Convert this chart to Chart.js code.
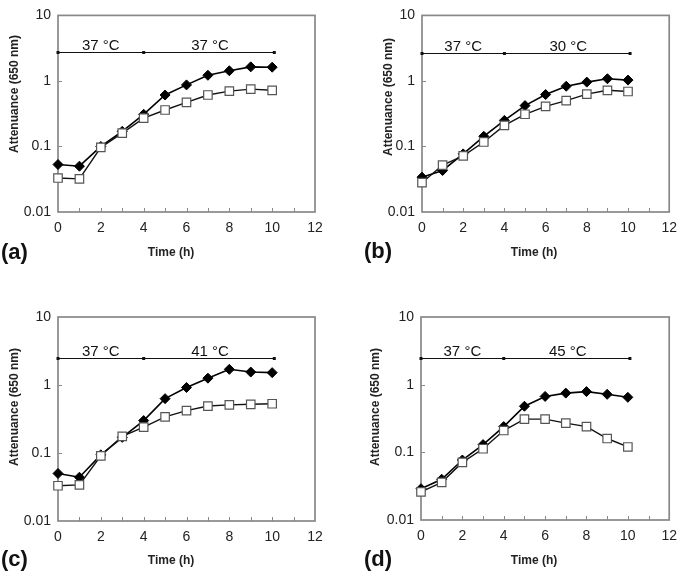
<!DOCTYPE html>
<html>
<head>
<meta charset="utf-8">
<script src="https://cdn.jsdelivr.net/npm/chart.js@4.4.1/dist/chart.umd.min.js"></script>
<style>
  body { margin: 0; background: #fff; }
  #wrap { position: relative; width: 685px; height: 577px; font-family: "Liberation Sans", Arial, sans-serif; color: #111; }
  canvas { position: absolute; }
  .lbl { position: absolute; transform: translate(-50%, -50%); white-space: nowrap; }
  .letter { font-size: 22px; font-weight: bold; transform: translate(0, -50%); }
  .xt { font-size: 12px; font-weight: bold; color: #222; }
  .yt { font-size: 12px; font-weight: bold; color: #222; transform: translate(-50%, -50%) rotate(-90deg); }
</style>
</head>
<body>
<div id="wrap">
  <canvas id="ca" width="340" height="290" style="left:0;top:0"></canvas>
  <canvas id="cb" width="345" height="290" style="left:340px;top:0"></canvas>
  <canvas id="cc" width="340" height="287" style="left:0;top:290px"></canvas>
  <canvas id="cd" width="345" height="287" style="left:340px;top:290px"></canvas>

  <div class="lbl letter" style="left:1px;top:252px">(a)</div>
  <div class="lbl letter" style="left:364px;top:251px">(b)</div>
  <div class="lbl letter" style="left:1px;top:559px">(c)</div>
  <div class="lbl letter" style="left:364px;top:559px">(d)</div>

  <div class="lbl xt" style="left:171px;top:252px">Time (h)</div>
  <div class="lbl xt" style="left:534px;top:252px">Time (h)</div>
  <div class="lbl xt" style="left:171px;top:560px">Time (h)</div>
  <div class="lbl xt" style="left:534px;top:560px">Time (h)</div>

  <div class="lbl yt" style="left:14px;top:94px">Attenuance (650 nm)</div>
  <div class="lbl yt" style="left:388px;top:97px">Attenuance (650 nm)</div>
  <div class="lbl yt" style="left:14px;top:407px">Attenuance (650 nm)</div>
  <div class="lbl yt" style="left:375px;top:407px">Attenuance (650 nm)</div>
</div>
<script>
// time points (h)
var hours = [0, 1, 2, 3, 4, 5, 6, 7, 8, 9, 10];
var yTicks = [0.01, 0.1, 1, 10];

// filled diamonds / open squares
var filledA = [0.053, 0.050, 0.10, 0.17, 0.31, 0.61, 0.87, 1.22, 1.43, 1.64, 1.62];
var openA   = [0.033, 0.032, 0.097, 0.16, 0.27, 0.36, 0.47, 0.61, 0.70, 0.75, 0.72];
var filledB = [0.034, 0.043, 0.077, 0.143, 0.25, 0.42, 0.62, 0.83, 0.96, 1.08, 1.03];
var openB   = [0.028, 0.052, 0.072, 0.117, 0.21, 0.31, 0.41, 0.50, 0.63, 0.72, 0.69];
var filledC = [0.050, 0.044, 0.094, 0.17, 0.30, 0.63, 0.92, 1.26, 1.70, 1.55, 1.52];
var openC   = [0.033, 0.034, 0.091, 0.176, 0.24, 0.34, 0.42, 0.49, 0.51, 0.52, 0.53];
var filledD = [0.029, 0.040, 0.077, 0.13, 0.24, 0.48, 0.67, 0.75, 0.79, 0.72, 0.65];
var openD   = [0.026, 0.036, 0.071, 0.113, 0.21, 0.31, 0.31, 0.27, 0.24, 0.16, 0.12];

// temperature phases
var phase1 = ["37 °C", "37 °C", "37 °C", "37 °C"];
var phase2 = ["37 °C", "30 °C", "41 °C", "45 °C"];
var phaseLevel = [2.8, 2.7, 2.5, 2.5];

function pts(vals) {
  return hours.map(function (h, i) { return { x: h, y: vals[i] }; });
}

var framePlugin = {
  id: "frame",
  beforeDatasetsDraw: function (chart) {
    var ctx = chart.ctx;
    var a = chart.chartArea;
    var xs = chart.scales.x;
    var ys = chart.scales.y;
    ctx.save();
    // box
    ctx.strokeStyle = "#888";
    ctx.lineWidth = 1.7;
    ctx.strokeRect(a.left, a.top, a.right - a.left, a.bottom - a.top);
    // inward ticks
    ctx.lineWidth = 1;
    ctx.beginPath();
    for (var h = 1; h < 12; h++) {
      var px = Math.round(xs.getPixelForValue(h)) + 0.5;
      ctx.moveTo(px, a.bottom);
      ctx.lineTo(px, a.bottom - 4);
    }
    yTicks.forEach(function (v) {
      if (v == 0.01 || v == 10) return;
      var py = Math.round(ys.getPixelForValue(v)) + 0.5;
      ctx.moveTo(a.left, py);
      ctx.lineTo(a.left + 4, py);
    });
    ctx.stroke();

    // temperature bar
    var k = chart.options.plugins.frame.idx;
    var ly = Math.round(ys.getPixelForValue(phaseLevel[k])) + 0.5;
    var x0 = xs.getPixelForValue(0);
    var x4 = xs.getPixelForValue(4);
    var x10 = xs.getPixelForValue(10.1);
    ctx.strokeStyle = "#111";
    ctx.lineWidth = 1.2;
    ctx.beginPath();
    ctx.moveTo(x0, ly);
    ctx.lineTo(x10, ly);
    ctx.stroke();
    ctx.fillStyle = "#111";
    [x0, x4, x10].forEach(function (px) {
      ctx.fillRect(px - 1.5, ly - 1.5, 3, 3);
    });
    ctx.font = "15px 'Liberation Sans', Arial, sans-serif";
    ctx.textAlign = "center";
    ctx.textBaseline = "alphabetic";
    ctx.fillText(phase1[k], xs.getPixelForValue(2), ly - 3);
    ctx.fillText(phase2[k], xs.getPixelForValue(7.1), ly - 3);
    ctx.restore();
  }
};

function makePanel(id, idx, filled, open, yw, pad) {
  var ctx = document.getElementById(id).getContext("2d");
  return new Chart(ctx, {
    type: "line",
    data: {
      datasets: [
        {
          data: pts(open),
          borderColor: "#111",
          borderWidth: 1.4,
          pointStyle: "rect",
          pointRadius: 6,
          pointBackgroundColor: "#fff",
          pointBorderColor: "#555",
          pointBorderWidth: 1.2,
          clip: false,
          order: 0
        },
        {
          data: pts(filled),
          borderColor: "#000",
          borderWidth: 1.6,
          pointStyle: "rectRot",
          pointRadius: 5,
          pointBackgroundColor: "#000",
          pointBorderColor: "#000",
          pointBorderWidth: 1,
          clip: false,
          order: 1
        }
      ]
    },
    options: {
      responsive: false,
      animation: false,
      layout: { autoPadding: false, padding: pad },
      plugins: {
        legend: { display: false },
        tooltip: { enabled: false },
        frame: { idx: idx }
      },
      scales: {
        x: {
          type: "linear",
          min: 0,
          max: 12,
          grid: { display: false, drawTicks: false },
          border: { display: false },
          afterFit: function (s) { s.height = 40; },
          ticks: {
            stepSize: 1,
            autoSkip: false,
            maxRotation: 0,
            padding: 8,
            color: "#222",
            font: { size: 14, family: "'Liberation Sans', Arial, sans-serif" },
            callback: function (v) { return v % 2 === 0 ? String(v) : ""; }
          }
        },
        y: {
          type: "logarithmic",
          min: 0.01,
          max: 10,
          grid: { display: false, drawTicks: false },
          border: { display: false },
          afterFit: function (s) { s.width = yw; },
          afterBuildTicks: function (s) {
            s.ticks = yTicks.map(function (v) { return { value: v }; });
          },
          ticks: {
            padding: 7,
            color: "#222",
            font: { size: 14, family: "'Liberation Sans', Arial, sans-serif" },
            callback: function (v) { return String(v); }
          }
        }
      }
    },
    plugins: [framePlugin]
  });
}

makePanel("ca", 0, filledA, openA, 58, { left: 0, top: 8, right: 25, bottom: 38 });
makePanel("cb", 1, filledB, openB, 82, { left: 0, top: 8, right: 11, bottom: 38 });
makePanel("cc", 2, filledC, openC, 58, { left: 0, top: 27, right: 25, bottom: 16 });
makePanel("cd", 3, filledD, openD, 81, { left: 0, top: 27, right: 9, bottom: 17 });
</script>
</body>
</html>
